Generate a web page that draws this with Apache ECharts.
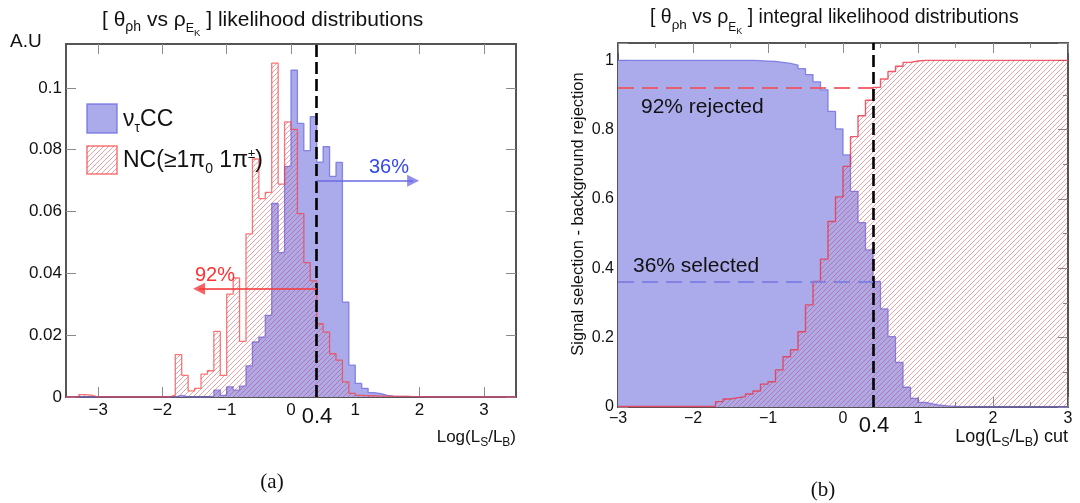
<!DOCTYPE html>
<html>
<head>
<meta charset="utf-8">
<script src="https://cdn.jsdelivr.net/npm/echarts@6/dist/echarts.min.js"></script>
<style>
html, body { margin: 0; padding: 0; background: #fff; }
#main { width: 1080px; height: 503px; }
</style>
</head>
<body>
<div id="main"></div>
<script>
// (a) normalised Log(LS/LB) histograms, bins of 0.1 starting at -3.5
var histStart = -3.5
var histWidth = 0.1
var sigHist = [
  0, 0, 0, 0, 0, 0, 0, 0, 0, 0, 0, 0, 0, 0, 0, 0, 0,
  0.0005, 0, 0, 0, 0,
  0.0003, 0.0022, 0.0005, 0.0033, 0.0022, 0.0035, 0.0101, 0.0178, 0.0194, 0.0264,
  0.0626, 0.0467, 0.0746, 0.1057, 0.0885, 0.0797, 0.0907, 0.0760, 0.0810, 0.0714,
  0.0759, 0.0307, 0.0103, 0.0044, 0.0028, 0.0014, 0.0011, 0.0005, 0.0003, 0.0002,
  0.0002, 0.0001, 0.0001,
  0, 0, 0, 0, 0, 0, 0, 0, 0, 0, 0, 0, 0, 0, 0
]
var bkgHist = [
  0, 0, 0.0008, 0.0006,
  0, 0, 0, 0, 0, 0, 0, 0, 0, 0, 0, 0,
  0.0006, 0.0137, 0.0070, 0.0020, 0.0028, 0.0074, 0.0085, 0.0212, 0.0070, 0.0333,
  0.0385, 0.0180, 0.0528, 0.0770, 0.0642, 0.0662, 0.1080, 0.0689, 0.0890, 0.0866,
  0.0593, 0.0435, 0.0376, 0.0237, 0.0210, 0.0140, 0.0119, 0.0049, 0.0012, 0.0005,
  0.0004, 0.0004, 0.0003, 0.0003, 0.0002, 0.0002, 0.0002, 0.0001, 0.0001,
  0, 0, 0, 0, 0, 0, 0, 0, 0, 0, 0, 0, 0, 0, 0
]
// (b) integral distributions, bins of 0.1 starting at -3
var intStart = -3
var intWidth = 0.1
var sigIntegral = [
  1, 1, 1, 1, 1, 1, 1, 1, 1, 1, 1, 1, 1, 1, 1, 1, 1,
  1, 0.999, 0.998, 0.997, 0.994, 0.991, 0.986, 0.976, 0.959, 0.938,
  0.915, 0.853, 0.802, 0.727, 0.622, 0.532, 0.453, 0.362, 0.283, 0.203,
  0.129, 0.057, 0.025, 0.0135, 0.0087, 0.005, 0.003, 0.002, 0.001, 0.0005,
  0, 0, 0, 0, 0, 0, 0, 0, 0, 0, 0, 0, 0
]
var bkgIntegral = [
  0.0015, 0.0015, 0.0015, 0.0015, 0.0015, 0.0015, 0.0015, 0.0015, 0.0015, 0.0015, 0.0015, 0.0015,
  0.002, 0.0154, 0.023, 0.027, 0.030, 0.0375, 0.046, 0.066, 0.073, 0.107,
  0.145, 0.165, 0.217, 0.2945, 0.362, 0.4265, 0.535, 0.606, 0.694, 0.780,
  0.840, 0.885, 0.922, 0.946, 0.968, 0.983, 0.994, 0.998,
  1, 1, 1, 1, 1, 1, 1, 1, 1, 1, 1, 1, 1, 1, 1, 1, 1, 1, 1, 1
]
var histTicksX = [-3, -2, -1, 0, 1, 2, 3]
var histTicksY = [0, 0.02, 0.04, 0.06, 0.08, 0.1]
var cutValue = 0.4
var sigSelected = 0.36
var bkgRejected = 0.92

var FONT = 'Liberation Sans, Arial, Helvetica, sans-serif'
var SIG_FILL = '#ababec'
var SIG_LINE = 'rgba(110,110,225,0.8)'
var BKG_LINE = 'rgba(250,60,60,0.7)'

function stepData (start, width, vals) {
  var pts = vals.map(function (v, i) { return [+(start + i * width).toFixed(2), v] })
  pts.push([+(start + vals.length * width).toFixed(2), vals[vals.length - 1]])
  return pts
}

function hatch () {
  var c = document.createElement('canvas')
  c.width = 5
  c.height = 5
  var g = c.getContext('2d')
  g.strokeStyle = 'rgba(225,45,60,0.45)'
  g.lineWidth = 1
  g.beginPath()
  g.moveTo(0, 5); g.lineTo(5, 0)
  g.moveTo(-1, 1); g.lineTo(1, -1)
  g.moveTo(4, 6); g.lineTo(6, 4)
  g.stroke()
  return c
}
var hatchFill = { image: hatch(), repeat: 'repeat' }

function fmt (v) {
  var s = String(+(+v).toFixed(2))
  return v < 0 ? '\u2212' + s.slice(1) : s
}

// rich token; 'bottom' tokens are lifted by padding-bottom, 'top' tokens lowered by padding-top
function tk (size, lh, va, pad) {
  var t = { fontSize: size, fontFamily: FONT, lineHeight: lh }
  if (va) t.verticalAlign = va
  if (pad) t.padding = va === 'top' ? [pad, 0, 0, 0] : [0, 0, pad, 0]
  return t
}

function txt (x, y, text, rich, extra) {
  var style = { text: text, rich: rich, fill: '#111', align: 'left', verticalAlign: 'middle', fontFamily: FONT }
  var el = { type: 'text', x: x, y: y, z: 100, silent: true, style: style }
  if (extra) {
    for (var k in extra) {
      if (k === 'rotation') el.rotation = extra[k]
      else style[k] = extra[k]
    }
  }
  return el
}

function frameAxis (grid, pos, min, max, extra) {
  var ax = {
    type: 'value', gridIndex: grid, position: pos, min: min, max: max,
    axisLine: { show: true, onZero: false, lineStyle: { color: '#555', width: 2 } },
    axisTick: { show: true, inside: true, length: 10, lineStyle: { color: '#8a8a8a', width: 1 } },
    axisLabel: { show: false },
    splitLine: { show: false }
  }
  for (var k in extra) ax[k] = extra[k]
  return ax
}

var chart = echarts.init(document.getElementById('main'))

var labelStyle = function (size, margin, custom) {
  var l = { show: true, formatter: fmt, fontSize: size, color: '#111', margin: margin, fontFamily: FONT }
  if (custom) l.customValues = custom
  return l
}
var tickCustom = function (vals) {
  return { show: true, inside: true, length: 10, customValues: vals, lineStyle: { color: '#8a8a8a', width: 1 } }
}
var minor = { show: true, splitNumber: 2, length: 5, lineStyle: { color: '#8a8a8a', width: 1 } }

var option = {
  animation: false,
  grid: [
    { left: 66, top: 44, width: 450, height: 353, outerBoundsMode: 'none' },
    { left: 618, top: 43, width: 450, height: 364, outerBoundsMode: 'none' }
  ],
  xAxis: [
    frameAxis(0, 'bottom', histStart, 3.5, { axisTick: tickCustom(histTicksX), axisLabel: labelStyle(17, 5, histTicksX) }),
    frameAxis(0, 'top', histStart, 3.5, { axisTick: tickCustom(histTicksX) }),
    frameAxis(1, 'bottom', intStart, 3, { interval: 1, minorTick: minor, axisLabel: labelStyle(16, 4) }),
    frameAxis(1, 'top', intStart, 3, { interval: 1, minorTick: minor })
  ],
  yAxis: [
    frameAxis(0, 'left', 0, 0.1142, { axisTick: tickCustom(histTicksY), axisLabel: labelStyle(17, 4, histTicksY) }),
    frameAxis(0, 'right', 0, 0.1142, { axisTick: tickCustom(histTicksY) }),
    frameAxis(1, 'left', 0, 1.05, { interval: 0.2, minorTick: minor,
      axisLabel: Object.assign(labelStyle(16, 4), { showMaxLabel: false, formatter: function (v) { return v > 1.001 ? '' : fmt(v) } }) }),
    frameAxis(1, 'right', 0, 1.05, { interval: 0.2, minorTick: minor })
  ],
  series: [
    {
      name: 'sigHist', type: 'line', step: 'end', symbol: 'none', xAxisIndex: 0, yAxisIndex: 0, z: 2,
      data: stepData(histStart, histWidth, sigHist),
      lineStyle: { color: SIG_LINE, width: 1.3 },
      areaStyle: { color: SIG_FILL, opacity: 1, origin: 'start' },
      emphasis: { disabled: true }, silent: true
    },
    {
      name: 'bkgHist', type: 'line', step: 'end', symbol: 'none', xAxisIndex: 0, yAxisIndex: 0, z: 3,
      data: stepData(histStart, histWidth, bkgHist),
      lineStyle: { color: BKG_LINE, width: 1.3 },
      areaStyle: { color: hatchFill, opacity: 1, origin: 'start' },
      emphasis: { disabled: true }, silent: true
    },
    {
      name: 'cutA', type: 'line', symbol: 'none', xAxisIndex: 0, yAxisIndex: 0, z: 5,
      data: [[cutValue, 0]], lineStyle: { opacity: 0 }, silent: true,
      markLine: {
        silent: true, symbol: 'none', label: { show: false }, animation: false,
        data: [
          { xAxis: cutValue, lineStyle: { color: '#000', width: 2.6, type: [12, 5] } },
          [
            { coord: [cutValue, 0.07], symbol: 'none', lineStyle: { color: 'rgba(105,105,228,0.75)', width: 2, type: 'solid' } },
            { coord: [1.9, 0.07], symbol: 'triangle', symbolSize: 12 }
          ],
          [
            { coord: [cutValue, 0.035], symbol: 'none', lineStyle: { color: 'rgba(245,60,60,0.8)', width: 2, type: 'solid' } },
            { coord: [-1.43, 0.035], symbol: 'triangle', symbolSize: 12 }
          ]
        ]
      }
    },
    {
      name: 'sigIntegral', type: 'line', step: 'end', symbol: 'none', xAxisIndex: 2, yAxisIndex: 2, z: 2,
      data: stepData(intStart, intWidth, sigIntegral),
      lineStyle: { color: SIG_LINE, width: 1.3 },
      areaStyle: { color: SIG_FILL, opacity: 1, origin: 'start' },
      emphasis: { disabled: true }, silent: true
    },
    {
      name: 'bkgIntegral', type: 'line', step: 'end', symbol: 'none', xAxisIndex: 2, yAxisIndex: 2, z: 3,
      data: stepData(intStart, intWidth, bkgIntegral),
      lineStyle: { color: 'rgba(235,50,70,0.8)', width: 1.4 },
      areaStyle: { color: hatchFill, opacity: 1, origin: 'start' },
      emphasis: { disabled: true }, silent: true
    },
    {
      name: 'cutB', type: 'line', symbol: 'none', xAxisIndex: 2, yAxisIndex: 2, z: 5,
      data: [[cutValue, 0]], lineStyle: { opacity: 0 }, silent: true,
      markLine: {
        silent: true, symbol: 'none', label: { show: false }, animation: false,
        data: [
          { xAxis: cutValue, lineStyle: { color: '#000', width: 2.6, type: [12, 5] } },
          [
            { coord: [intStart, bkgRejected], lineStyle: { color: 'rgba(240,80,90,0.85)', width: 2, type: [16, 8] } },
            { coord: [cutValue, bkgRejected] }
          ],
          [
            { coord: [intStart, sigSelected], lineStyle: { color: 'rgba(125,125,228,0.9)', width: 2, type: [16, 8] } },
            { coord: [cutValue, sigSelected] }
          ]
        ]
      }
    }
  ],
  graphic: [
    // titles
    txt(102, 20, '{m|[ θ}{s|ρh}{m| vs ρ}{e|E}{k|K}{m| ] likelihood distributions}', {
      m: tk(21, 40), s: tk(14, 40, 'bottom', 5.5), e: tk(12.5, 40, 'bottom', 4.5), k: tk(9.5, 40, 'bottom', 2)
    }),
    txt(650, 18, '{m|[ θ}{s|ρh}{m| vs ρ}{e|E}{k|K}{m| ] integral likelihood distributions}', {
      m: tk(19.5, 40), s: tk(13.5, 40, 'bottom', 5.5), e: tk(12, 40, 'bottom', 4.5), k: tk(9, 40, 'bottom', 2)
    }),
    // legend of (a)
    { type: 'rect', z: 100, silent: true, shape: { x: 87, y: 104, width: 30, height: 29 },
      style: { fill: SIG_FILL, stroke: 'rgba(110,110,225,0.8)', lineWidth: 1.5 } },
    { type: 'rect', z: 100, silent: true, shape: { x: 87, y: 146, width: 30, height: 28 },
      style: { fill: hatchFill, stroke: 'rgba(250,70,70,0.75)', lineWidth: 1.5 } },
    txt(123, 119.5, '{m|ν}{s|τ}{m|CC}', { m: tk(23, 40), s: tk(14, 40, 'bottom', 4) }),
    txt(123, 161, '{m|NC(≥1π}{s|0}{m| 1π}{p|±}{m|)}', { m: tk(23, 40), s: tk(14, 40, 'bottom', 5), p: tk(13, 40, 'top', 7) }),
    // annotations of (a)
    txt(389, 167, '36%', null, { fill: '#3348ee', fontSize: 20, align: 'center' }),
    txt(215, 275, '92%', null, { fill: '#ff3030', fontSize: 20, align: 'center' }),
    txt(10, 42, 'A.U', null, { fontSize: 19 }),
    txt(317, 417, '0.4', null, { fontSize: 22, align: 'center' }),
    txt(516, 437, '{m|Log(L}{s|S}{m|/L}{s|B}{m|)}', { m: tk(17, 30), s: tk(12, 30, 'bottom', 3) }, { align: 'right' }),
    // annotations of (b)
    txt(641, 107, '92% rejected', null, { fontSize: 21 }),
    txt(633, 266, '36% selected', null, { fontSize: 21 }),
    txt(874, 426, '0.4', null, { fontSize: 22, align: 'center' }),
    txt(1068, 437, '{m|Log(L}{s|S}{m|/L}{s|B}{m|) cut}', { m: tk(18, 30), s: tk(12.5, 30, 'bottom', 3) }, { align: 'right' }),
    txt(578, 214, 'Signal selection - background rejection', null, { fontSize: 16.5, align: 'center', rotation: Math.PI / 2 }),
    // sub-figure captions
    txt(272, 482, '(a)', null, { fontSize: 21, align: 'center', fontFamily: 'Liberation Serif, DejaVu Serif, serif' }),
    txt(823, 490, '(b)', null, { fontSize: 21, align: 'center', fontFamily: 'Liberation Serif, DejaVu Serif, serif' })
  ]
}

chart.setOption(option)
</script>
</body>
</html>
